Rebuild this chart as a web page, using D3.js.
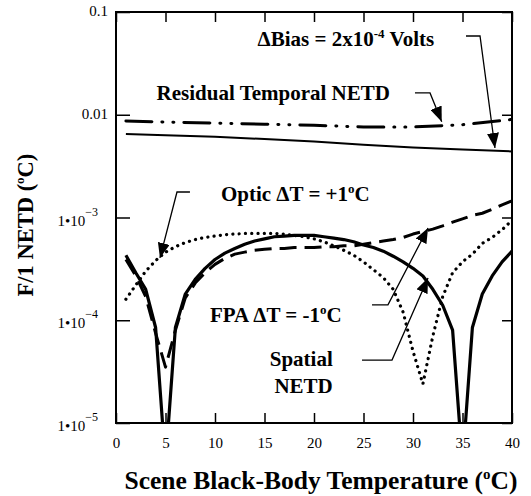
<!DOCTYPE html>
<html>
<head>
<meta charset="utf-8">
<script src="https://cdn.jsdelivr.net/npm/d3@7"></script>
<style>
  body { margin: 0; background: #fff; }
  text { font-family: "Liberation Serif", "Times New Roman", serif; fill: #000; }
</style>
</head>
<body>
<svg id="chart" width="531" height="496"></svg>
<script>
// values (scene temperature in degC, NETD in degC)
var temps = [1, 2, 3, 4, 5, 6, 7, 8, 9, 10, 11, 12, 13, 14, 15, 16, 17, 18, 19, 20,
             21, 22, 23, 24, 25, 26, 27, 28, 29, 30, 31, 32, 33, 34, 35, 36, 37, 38, 39, 40];

var spatialNETD = [4.3e-4, 2.9e-4, 2.0e-4, 8.5e-5, 4e-6, 8.5e-5, 1.8e-4, 2.5e-4, 3.2e-4, 3.9e-4,
                   4.5e-4, 5.0e-4, 5.5e-4, 5.9e-4, 6.2e-4, 6.5e-4, 6.6e-4, 6.7e-4, 6.7e-4, 6.7e-4,
                   6.5e-4, 6.3e-4, 6.1e-4, 5.8e-4, 5.4e-4, 5.1e-4, 4.7e-4, 4.2e-4, 3.7e-4, 3.2e-4,
                   2.7e-4, 2.0e-4, 1.4e-4, 8e-5, 4e-6, 8.5e-5, 1.8e-4, 2.7e-4, 3.7e-4, 4.7e-4];

var fpaMinus1 = [3.9e-4, 2.7e-4, 1.7e-4, 7.5e-5, 3.5e-5, 8e-5, 1.65e-4, 2.3e-4, 2.9e-4, 3.5e-4,
                 4.0e-4, 4.4e-4, 4.6e-4, 4.8e-4, 4.9e-4, 5.0e-4, 5.0e-4, 5.1e-4, 5.1e-4, 5.1e-4,
                 5.2e-4, 5.2e-4, 5.3e-4, 5.3e-4, 5.5e-4, 5.7e-4, 5.9e-4, 6.1e-4, 6.4e-4, 6.9e-4,
                 7.3e-4, 7.7e-4, 8.3e-4, 9.0e-4, 9.7e-4, 1.05e-3, 1.1e-3, 1.2e-3, 1.33e-3, 1.45e-3];

var opticPlus1 = [1.6e-4, 2.2e-4, 3.0e-4, 3.8e-4, 4.6e-4, 5.2e-4, 5.7e-4, 6.1e-4, 6.4e-4, 6.6e-4,
                  6.8e-4, 6.9e-4, 7.0e-4, 7.0e-4, 7.0e-4, 7.0e-4, 6.9e-4, 6.7e-4, 6.5e-4, 6.2e-4,
                  5.8e-4, 5.3e-4, 4.8e-4, 4.3e-4, 3.7e-4, 3.1e-4, 2.6e-4, 2.0e-4, 1.2e-4, 5e-5,
                  2.4e-5, 7e-5, 1.7e-4, 2.9e-4, 3.7e-4, 4.4e-4, 5.6e-4, 6.4e-4, 7.6e-4, 9.4e-4];

var tempCoarse = [1, 5, 10, 15, 20, 25, 30, 35, 40];
var residualTemporal = [0.0087, 0.0085, 0.0083, 0.0081, 0.0079, 0.0076, 0.0076, 0.0080, 0.0090];
var biasStep = [0.0065, 0.0063, 0.0061, 0.0058, 0.0055, 0.0051, 0.0048, 0.0046, 0.0044];

var xTicks = [0, 5, 10, 15, 20, 25, 30, 35, 40];
var yTicks = [1e-5, 1e-4, 1e-3, 0.01, 0.1];
var yTickLabels = [["1\u202210", "\u22125"], ["1\u202210", "\u22124"], ["1\u202210", "\u22123"], ["0.01"], ["0.1"]];

// callouts: text parts ([string, superscript?]), text anchor point and leader points, all in data units
var callouts = [
  { parts: [["\u0394Bias = 2x10", 0], ["-4", 1], [" Volts", 0]], at: [14.3, 0.0467], anchor: "start",
    leader: [[35.35, 0.0584], [36.77, 0.0584], [38.28, 0.00475]] },
  { parts: [["Residual Temporal NETD", 0]], at: [4.1, 0.0139], anchor: "start",
    leader: [[30.2, 0.0163], [31.72, 0.0163], [32.9, 0.00856]] },
  { parts: [["Optic \u0394T = +1", 0], ["o", 1], ["C", 0]], at: [10.6, 1.45e-3], anchor: "start",
    leader: [[7.47, 0.00177], [6.16, 0.00177], [4.44, 4.04e-4]] },
  { parts: [["FPA \u0394T = -1", 0], ["o", 1], ["C", 0]], at: [9.49, 9.6e-5], anchor: "start",
    leader: [[25.86, 1.41e-4], [27.47, 1.41e-4], [31.52, 7.9e-4]] },
  { parts: [["Spatial", 0]], at: [21.9, 3.59e-5], anchor: "end",
    leader: [[24.85, 4.1e-5], [27.88, 4.1e-5], [31.52, 2.58e-4]] },
  { parts: [["NETD", 0]], at: [21.9, 1.96e-5], anchor: "end", leader: null }
];

var svg = d3.select("#chart");
var plotL = 116, plotR = 512, plotT = 12, plotB = 423;

var x = d3.scaleLinear().domain([0, 40]).range([plotL, plotR]);
var y = d3.scaleLog().domain([1e-5, 0.1]).range([plotB, plotT]);

var defs = svg.append("defs");

// arrowhead
defs.append("marker")
    .attr("id", "arrow")
    .attr("markerUnits", "userSpaceOnUse")
    .attr("markerWidth", 16).attr("markerHeight", 12)
    .attr("refX", 15).attr("refY", 6)
    .attr("orient", "auto")
  .append("path")
    .attr("d", "M0,0L15,6L0,12Z")
    .attr("fill", "#000");

defs.append("clipPath").attr("id", "plotclip")
  .append("rect")
    .attr("x", plotL).attr("y", plotT)
    .attr("width", plotR - plotL).attr("height", plotB - plotT);

// axes, ticks pointing inward
var tickStyle = function(g) {
  g.select(".domain").remove();
  g.selectAll(".tick line").attr("stroke", "#000").attr("stroke-width", 1.5);
};

svg.append("g").attr("transform", "translate(0," + plotB + ")")
    .call(d3.axisBottom(x).tickValues(xTicks).tickSize(-10).tickPadding(14).tickFormat(d3.format("d")))
    .call(tickStyle)
    .call(function(g) {
      g.selectAll(".tick text").attr("font-size", 15).attr("font-family", "Liberation Serif").attr("fill", "#000");
    });

svg.append("g").attr("transform", "translate(0," + plotT + ")")
    .call(d3.axisTop(x).tickValues(xTicks).tickSize(-10).tickFormat(""))
    .call(tickStyle);

svg.append("g").attr("transform", "translate(" + plotL + ",0)")
    .call(d3.axisLeft(y).tickValues(yTicks).tickSize(-14).tickFormat(""))
    .call(tickStyle);

svg.append("g").attr("transform", "translate(" + plotR + ",0)")
    .call(d3.axisRight(y).tickValues(yTicks).tickSize(-10).tickFormat(""))
    .call(tickStyle);

// y tick labels with superscript exponents
var yl = svg.append("g").selectAll("text")
  .data(yTicks)
  .enter().append("text")
    .attr("font-size", 15)
    .attr("text-anchor", "end")
    .attr("x", function(d, i) { return yTickLabels[i].length > 1 ? 98 : 108; })
    .attr("y", function(d, i) { return y(d) + (yTickLabels[i].length > 1 ? 8 : 4); });
yl.append("tspan").text(function(d, i) { return yTickLabels[i][0]; });
yl.filter(function(d, i) { return yTickLabels[i].length > 1; })
  .append("tspan")
    .attr("dy", -10)
    .attr("font-size", 12)
    .text(function(d) { return yTickLabels[yTicks.indexOf(d)][1]; });

// frame
svg.append("rect")
    .attr("x", plotL).attr("y", plotT)
    .attr("width", plotR - plotL).attr("height", plotB - plotT)
    .attr("fill", "none").attr("stroke", "#000").attr("stroke-width", 2);

// curves
var plot = svg.append("g").attr("clip-path", "url(#plotclip)");
var line = d3.line()
    .x(function(d) { return x(d[0]); })
    .y(function(d) { return y(d[1]); });

function drawSeries(xs, ys, width, dash, cap) {
  plot.append("path")
      .datum(d3.zip(xs, ys))
      .attr("d", line)
      .attr("fill", "none")
      .attr("stroke", "#000")
      .attr("stroke-width", width)
      .attr("stroke-dasharray", dash)
      .attr("stroke-linecap", cap)
      .attr("stroke-linejoin", "round");
}

drawSeries(tempCoarse, biasStep, 2, null, "butt");
drawSeries(tempCoarse, residualTemporal, 3, "26 10 1 10 1 10", "round");
drawSeries(temps, opticPlus1, 3.2, "0.1 6.2", "round");
drawSeries(temps, fpaMinus1, 3, "17 8", "butt");
drawSeries(temps, spatialNETD, 3.2, null, "butt");

// callouts
callouts.forEach(function(c) {
  var t = svg.append("text")
      .attr("x", x(c.at[0])).attr("y", y(c.at[1]))
      .attr("text-anchor", c.anchor)
      .attr("font-size", 21)
      .attr("font-weight", "bold");
  var raised = false;
  c.parts.forEach(function(p) {
    var s = t.append("tspan").text(p[0]);
    if (p[1] && !raised) { s.attr("dy", -8).attr("font-size", 13); raised = true; }
    else if (!p[1] && raised) { s.attr("dy", 8); raised = false; }
  });
  if (c.leader) {
    svg.append("path")
        .datum(c.leader)
        .attr("d", line)
        .attr("fill", "none")
        .attr("stroke", "#000")
        .attr("stroke-width", 1.3)
        .attr("marker-end", "url(#arrow)");
  }
});

// axis titles
var xt = svg.append("text")
    .attr("x", 321).attr("y", 489)
    .attr("text-anchor", "middle")
    .attr("font-size", 25.5).attr("font-weight", "bold");
xt.append("tspan").text("Scene Black-Body Temperature (");
xt.append("tspan").attr("dy", -10).attr("font-size", 15).text("o");
xt.append("tspan").attr("dy", 10).text("C)");

var ytt = svg.append("text")
    .attr("transform", "translate(33,225) rotate(-90)")
    .attr("text-anchor", "middle")
    .attr("font-size", 22.5).attr("font-weight", "bold");
ytt.append("tspan").text("F/1 NETD (");
ytt.append("tspan").attr("dy", -9).attr("font-size", 13).text("o");
ytt.append("tspan").attr("dy", 9).text("C)");
</script>
</body>
</html>
